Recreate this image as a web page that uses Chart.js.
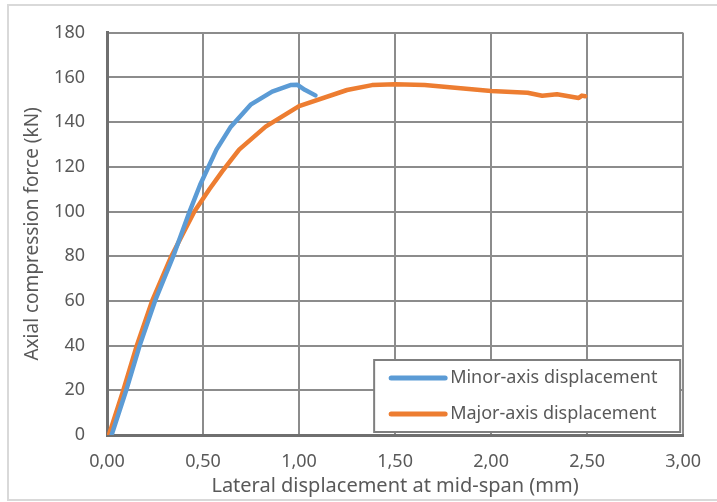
<!DOCTYPE html>
<html>
<head>
<meta charset="utf-8">
<script src="https://cdn.jsdelivr.net/npm/chart.js@4/dist/chart.umd.min.js"></script>
<style>
  html, body { margin: 0; padding: 0; background: #ffffff; }
  #wrap { width: 717px; height: 502px; position: relative; }
</style>
</head>
<body>
<div id="wrap"><canvas id="chart" width="717" height="502"></canvas></div>
<script>
// Data
var minorX = [0.024, 0.10, 0.17, 0.25, 0.345, 0.43, 0.485, 0.57, 0.645, 0.75, 0.86, 0.955, 0.99, 1.03, 1.085];
var minorY = [0, 20, 40, 60, 80, 100, 112, 127.7, 138, 148, 153.7, 156.6, 156.8, 154.5, 152];

var majorX = [0.01, 0.085, 0.155, 0.235, 0.335, 0.455, 0.533, 0.60, 0.688, 0.826, 1.0, 1.25, 1.38, 1.5, 1.654, 2.0, 2.19, 2.266, 2.343, 2.456, 2.473, 2.49];
var majorY = [0, 20, 40, 60, 80, 100, 110, 118, 127.7, 138, 147.2, 154.4, 156.6, 157, 156.6, 154, 153.2, 151.8, 152.5, 150.8, 151.9, 151.6];

var seriesNames = ["Minor-axis displacement", "Major-axis displacement"];
var seriesColors = ["#5b9bd5", "#ed7d31"];

var xTitle = "Lateral displacement at mid-span (mm)";
var yTitle = "Axial compression force (kN)";

var FONT = "'Noto Sans', 'DejaVu Sans', sans-serif";
var TEXT = "#595959";

function toPoints(xs, ys) {
  var pts = [];
  for (var i = 0; i < xs.length; i++) pts.push({ x: xs[i], y: ys[i] });
  return pts;
}

// Outer frame + legend box inside the plot
var framePlugin = {
  id: "frame",
  beforeDraw: function (chart) {
    var ctx = chart.ctx;
    ctx.save();
    ctx.fillStyle = "#ffffff";
    ctx.fillRect(0, 0, chart.width, chart.height);
    ctx.strokeStyle = "#d9d9d9";
    ctx.lineWidth = 2;
    ctx.strokeRect(8, 5, chart.width, chart.height - 7);
    ctx.restore();
  },
  afterDraw: function (chart) {
    var ctx = chart.ctx;
    var area = chart.chartArea;
    var w = 306, h = 72;
    var left = area.right - 3 - w;
    var top = area.bottom - 3 - h;
    ctx.save();
    ctx.fillStyle = "#ffffff";
    ctx.fillRect(left, top, w, h);
    ctx.strokeStyle = "#7f7f7f";
    ctx.lineWidth = 2;
    ctx.strokeRect(left, top, w, h);
    ctx.font = "18px " + FONT;
    ctx.textBaseline = "middle";
    for (var i = 0; i < seriesNames.length; i++) {
      var y = top + 18 + i * 36;
      ctx.strokeStyle = seriesColors[i];
      ctx.lineWidth = 5;
      ctx.lineCap = "round";
      ctx.beginPath();
      ctx.moveTo(left + 17, y);
      ctx.lineTo(left + 71, y);
      ctx.stroke();
      ctx.fillStyle = TEXT;
      ctx.fillText(seriesNames[i], left + 76, y);
    }
    ctx.restore();
  }
};

new Chart(document.getElementById("chart"), {
  type: "scatter",
  data: {
    datasets: [
      {
        label: seriesNames[0],
        data: toPoints(minorX, minorY),
        showLine: true,
        borderColor: seriesColors[0],
        backgroundColor: seriesColors[0],
        borderWidth: 4.5,
        pointRadius: 0,
        borderJoinStyle: "round",
        borderCapStyle: "round",
        tension: 0
      },
      {
        label: seriesNames[1],
        data: toPoints(majorX, majorY),
        showLine: true,
        borderColor: seriesColors[1],
        backgroundColor: seriesColors[1],
        borderWidth: 4.5,
        pointRadius: 0,
        borderJoinStyle: "round",
        borderCapStyle: "round",
        tension: 0
      }
    ]
  },
  options: {
    responsive: false,
    animation: false,
    layout: { padding: { left: 0, right: 31, top: 19, bottom: 0 } },
    plugins: {
      legend: { display: false },
      tooltip: { enabled: false }
    },
    scales: {
      x: {
        type: "linear",
        min: 0,
        max: 3,
        afterFit: function (scale) { scale.height = 67; },
        ticks: {
          stepSize: 0.5,
          padding: 16,
          color: TEXT,
          font: { family: FONT, size: 18 },
          maxRotation: 0,
          callback: function (v) { return v.toFixed(2).replace(".", ","); }
        },
        grid: { color: "#8c8c8c", lineWidth: 2, drawTicks: false },
        border: { color: "#6f6f6f", width: 3 },
        title: {
          display: true,
          text: xTitle,
          color: TEXT,
          font: { family: FONT, size: 20 },
          padding: { top: 0, bottom: 4 }
        }
      },
      y: {
        min: 0,
        max: 180,
        afterFit: function (scale) { scale.width = 107; },
        ticks: {
          stepSize: 20,
          padding: 22,
          color: TEXT,
          font: { family: FONT, size: 18 }
        },
        grid: { color: "#8c8c8c", lineWidth: 2, drawTicks: false },
        border: { color: "#6f6f6f", width: 3 },
        title: {
          display: true,
          text: yTitle,
          color: TEXT,
          font: { family: FONT, size: 19 },
          padding: { top: 21, bottom: 0 }
        }
      }
    }
  },
  plugins: [framePlugin]
});
</script>
</body>
</html>
